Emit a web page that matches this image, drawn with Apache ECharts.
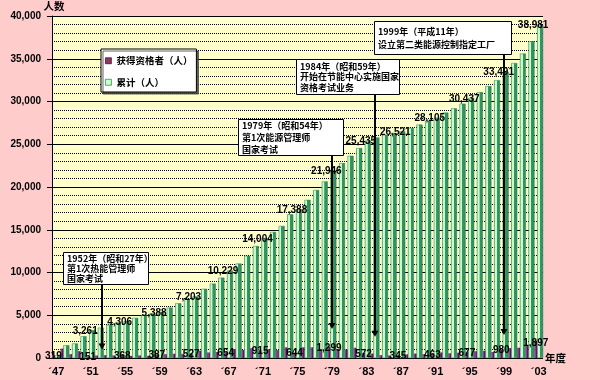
<!DOCTYPE html>
<html><head><meta charset="utf-8">
<script src="https://cdn.jsdelivr.net/npm/echarts@6/dist/echarts.min.js"></script>
<style>html,body{margin:0;padding:0;background:#ffcccc;}#c{width:600px;height:380px;}</style>
</head><body><div id="c"></div>
<script>
// ---- data ----
const years = [1947,1948,1949,1950,1951,1952,1953,1954,1955,1956,1957,1958,1959,1960,1961,1962,1963,1964,1965,1966,1967,1968,1969,1970,1971,1972,1973,1974,1975,1976,1977,1978,1979,1980,1981,1982,1983,1984,1985,1986,1987,1988,1989,1990,1991,1992,1993,1994,1995,1996,1997,1998,1999,2000,2001,2002,2003];
const qualified = [319,1100,450,800,151,300,330,300,368,250,300,250,387,450,500,480,527,850,650,700,654,1050,930,1150,915,1050,930,1250,644,1250,1250,1050,1299,1050,1000,1200,572,520,330,300,345,430,520,450,463,650,550,620,677,800,850,700,980,1150,1200,1400,1897];
const cumulative = [319,1500,1700,2550,3261,3550,3900,4150,4306,4700,5000,5200,5388,5900,6400,6900,7203,8100,8700,9400,10229,11050,11950,13100,14004,14750,15450,16800,17388,18500,19650,20650,21946,22800,23650,24550,25435,25800,26100,26330,26521,26900,27300,27750,28105,28700,29200,29750,30437,31100,31800,32500,33491,34500,35600,37050,38981];
const labeledYears = [1947,1951,1955,1959,1963,1967,1971,1975,1979,1983,1987,1991,1995,1999,2003];
const seriesNames = ['获得资格者（人）','累计（人）'];
const yAxisName = '人数';
const xAxisName = '年度';
const notes = [
  {year:1952, value:1000, lines:['1952年（昭和27年）','第1次热能管理师','国家考试']},
  {year:1979, value:3400, lines:['1979年（昭和54年）','第1次能源管理师','国家考试']},
  {year:1984, value:2500, lines:['1984年（昭和59年）','开始在节能中心实施国家','资格考试业务']},
  {year:1999, value:2700, lines:['1999年（平成11年）','设立第二类能源控制指定工厂']}
];

// ---- layout (pixels, not data) ----
const noteBoxes = [
  {x:63, y:252, w:85, h:32, lh:10, dx:3},
  {x:238, y:119, w:105, h:36, lh:12, dx:0},
  {x:296, y:59, w:103, h:35, lh:10.5, dx:0},
  {x:374, y:21, w:137, h:33, lh:12.5, dx:0}
];
const NUM_FONT = '"Liberation Sans", Arial, sans-serif';
const CJK_FONT = '"Noto Sans CJK SC", "Noto Sans CJK JP", sans-serif';
const fmt = v => Number(v).toLocaleString('en-US');
const labeledSet = new Set(labeledYears);

const chart = echarts.init(document.getElementById('c'), null, {renderer:'canvas'});
const greenFill = new echarts.graphic.LinearGradient(0,0,1,0,[
  {offset:0,color:'#3c9c6c'},{offset:0.14,color:'#ccffcc'},{offset:0.44,color:'#c4fbc8'},
  {offset:0.46,color:'#339966'},{offset:1,color:'#2e8a5c'}]);
const purpleFill = new echarts.graphic.LinearGradient(0,0,1,0,[
  {offset:0,color:'#a633a6'},{offset:0.55,color:'#993399'},{offset:0.56,color:'#6b0f6b'},{offset:1,color:'#660066'}]);

const option = {
  backgroundColor:'#ffcccc',
  animation:false,
  grid:{left:52, right:57, top:16, bottom:22, show:true, backgroundColor:'#ffffcc', borderWidth:0},
  legend:{
    orient:'vertical', left:101, top:49, itemWidth:6, itemHeight:6, itemGap:12, icon:'rect',
    padding:[7,4,5,4], backgroundColor:'#ffffff', borderColor:'#000', borderWidth:1,
    shadowColor:'rgba(60,60,60,0.8)', shadowOffsetX:2, shadowOffsetY:2, shadowBlur:0,
    textStyle:{fontSize:9.5, fontWeight:'bold', fontFamily:CJK_FONT, color:'#000'},
    data:[
      {name:seriesNames[0], itemStyle:{color:'#993366', borderColor:'#000', borderWidth:0.6}},
      {name:seriesNames[1], itemStyle:{color:'#ccffcc', borderColor:'#2e8a5c', borderWidth:0.8}}
    ]
  },
  xAxis:{
    type:'category', data:years, name:xAxisName, nameLocation:'end', nameGap:2,
    nameTextStyle:{fontSize:10.5, fontWeight:'bold', fontFamily:CJK_FONT, color:'#000', padding:[8,0,0,0]},
    axisLine:{show:false}, axisTick:{show:false}, splitLine:{show:false},
    axisLabel:{interval:3, margin:8, fontSize:11, fontWeight:'bold', fontFamily:NUM_FONT, color:'#000',
      formatter:v => '´' + String(v).slice(2)}
  },
  yAxis:{
    type:'value', min:0, max:40000, interval:5000, name:yAxisName, nameLocation:'end', nameGap:3,
    nameTextStyle:{fontSize:10.5, fontWeight:'bold', fontFamily:CJK_FONT, color:'#000', padding:[0,0,0,4]},
    axisLine:{show:true, lineStyle:{color:'#000', width:1}},
    axisTick:{show:true, length:5, lineStyle:{color:'#000'}},
    axisLabel:{margin:11, fontSize:10, fontWeight:'bold', fontFamily:NUM_FONT, color:'#000', padding:[6,0,0,0], formatter:fmt},
    splitLine:{show:true, lineStyle:{color:'#000', width:1}},
    minorTick:{show:false, splitNumber:5},
    minorSplitLine:{show:true, lineStyle:{color:'#000', width:1, type:[1,1]}}
  },
  series:[
    {name:seriesNames[0], type:'bar', data:qualified, barWidth:3, barGap:'-5%',
      itemStyle:{color:purpleFill},
      label:{show:true, position:'top', distance:-6, fontSize:10, fontWeight:'bold', fontFamily:NUM_FONT, color:'#000',
        formatter:p => labeledSet.has(years[p.dataIndex]) ? fmt(p.value) : ''}},
    {name:seriesNames[1], type:'bar', data:cumulative, barWidth:6, barCategoryGap:'0%',
      itemStyle:{color:greenFill, borderColor:'#2e7d57', borderWidth:0.5},
      label:{show:true, position:'top', distance:-6, offset:[-7,0], fontSize:10, fontWeight:'bold', fontFamily:NUM_FONT, color:'#000',
        formatter:p => (p.dataIndex>0 && labeledSet.has(years[p.dataIndex])) ? fmt(p.value) : ''}}
  ]
};
chart.setOption(option);

// annotations: boxes + arrows anchored on the axis scale
const els = [];
notes.forEach((n,i) => {
  const b = noteBoxes[i];
  const idx = years.indexOf(n.year);
  const pt = chart.convertToPixel({xAxisIndex:0, yAxisIndex:0}, [idx, n.value]);
  const ax = Math.round(pt[0] + b.dx);
  const tipY = pt[1];
  els.push({type:'line', z:50, shape:{x1:ax, y1:b.y+b.h, x2:ax, y2:tipY-5}, style:{stroke:'#000', lineWidth:2}});
  els.push({type:'polygon', z:50, shape:{points:[[ax-3.5,tipY-6],[ax+3.5,tipY-6],[ax,tipY]]}, style:{fill:'#000'}});
  els.push({type:'rect', z:51, shape:{x:b.x+0.5, y:b.y+0.5, width:b.w, height:b.h}, style:{fill:'#fff', stroke:'#000', lineWidth:1}});
  els.push({type:'text', z:52, x:b.x+4, y:b.y + (b.h - b.lh*n.lines.length)/2 + 0.5,
    style:{text:n.lines.join('\n'), font:'bold 9px ' + CJK_FONT, fill:'#000', lineHeight:b.lh, verticalAlign:'top'}});
});
chart.setOption({graphic:{elements:els}});
</script></body></html>
